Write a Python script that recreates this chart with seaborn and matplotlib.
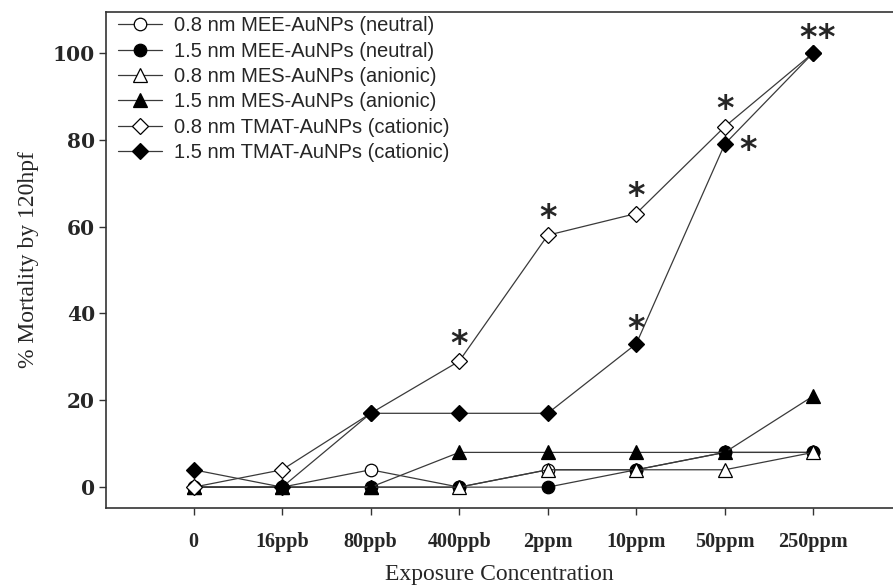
import matplotlib
matplotlib.use("Agg")
import matplotlib.pyplot as plt
import seaborn as sns

# exposure concentrations (categorical x axis)
concentrations = ["0", "16ppb", "80ppb", "400ppb", "2ppm", "10ppm", "50ppm", "250ppm"]

# % mortality by 120 hpf
mee_08 = [0, 0, 4, 0, 4, 4, 8, 8]
mee_15 = [0, 0, 0, 0, 0, 4, 8, 8]
mes_08 = [0, 0, 0, 0, 4, 4, 4, 8]
mes_15 = [0, 0, 0, 8, 8, 8, 8, 21]
tmat_08 = [0, 4, 17, 29, 58, 63, 83, 100]
tmat_15 = [4, 0, 17, 17, 17, 33, 79, 100]

labels = [
    "0.8 nm MEE-AuNPs (neutral)",
    "1.5 nm MEE-AuNPs (neutral)",
    "0.8 nm MES-AuNPs (anionic)",
    "1.5 nm MES-AuNPs (anionic)",
    "0.8 nm TMAT-AuNPs (cationic)",
    "1.5 nm TMAT-AuNPs (cationic)",
]

# significance marks (concentration index) above the TMAT points
stars_08 = [3, 4, 5, 6]
stars_15 = [5, 7]

sns.set_style("ticks")

fig = plt.figure(figsize=(8.93, 5.87), dpi=100)
ax = fig.add_axes([0.1187, 0.1346, 0.8813, 0.8450])

x = list(range(len(concentrations)))
series = [mee_08, mee_15, mes_08, mes_15, tmat_08, tmat_15]
markers = ["o", "o", "^", "^", "D", "D"]
faces = ["white", "black", "white", "black", "white", "black"]
sizes = [9, 9, 10, 10, 8.5, 8.5]

for vals, mk, fc, ms, lab in zip(series, markers, faces, sizes, labels):
    sns.lineplot(
        x=x, y=vals, ax=ax, color="#3a3a3a", linewidth=0.9,
        marker=mk, markersize=ms,
        markerfacecolor=fc, markeredgecolor="black", markeredgewidth=0.9,
        label=lab, zorder=3,
    )

# asterisks for significant differences
star_kw = dict(textcoords="offset points", ha="center", va="center",
               fontsize=24, fontweight="bold", family="DejaVu Sans")
for i in stars_08:
    ax.annotate("*", (x[i], tmat_08[i]), xytext=(0, 12), **star_kw)
for i in stars_15:
    if i == 7:
        # double asterisk at the top dose
        ax.annotate("*", (x[i], tmat_15[i]), xytext=(-4, 10), **star_kw)
        ax.annotate("*", (x[i], tmat_15[i]), xytext=(9, 10), **star_kw)
    else:
        ax.annotate("*", (x[i], tmat_15[i]), xytext=(0, 10), **star_kw)
ax.annotate("*", (x[6], tmat_15[6]), xytext=(17, -5), **star_kw)

ax.set_xlim(-0.99, 7.9)
ax.set_ylim(-4.8, 109.4)
ax.set_xticks(x)
ax.set_xticklabels(concentrations, family="Liberation Serif", fontweight="bold",
                   fontsize=14.5)
ax.set_yticks([0, 20, 40, 60, 80, 100])
ax.set_yticklabels(["0", "20", "40", "60", "80", "100"], family="DejaVu Serif",
                   fontweight="bold", fontsize=14.5)
ax.tick_params(axis="both", direction="out", length=5, width=1, color="#333333")
ax.tick_params(axis="x", pad=12)
ax.tick_params(axis="y", pad=3)

ax.set_xlabel("Exposure Concentration", family="Liberation Serif", fontsize=17,
              labelpad=9)
ax.set_ylabel("% Mortality by 120hpf", family="Liberation Serif", fontsize=17,
              labelpad=10)

for side in ["left", "bottom", "top"]:
    ax.spines[side].set_linewidth(1.2)
    ax.spines[side].set_color("#333333")
ax.spines["right"].set_visible(False)

leg = ax.legend(loc="upper left", bbox_to_anchor=(0.0, 1.016), frameon=False,
                prop={"family": "Liberation Sans", "size": 14.5},
                handlelength=2.2, handletextpad=0.6, labelspacing=0.32,
                borderaxespad=0.2)

fig.savefig("out.png", dpi=100)
